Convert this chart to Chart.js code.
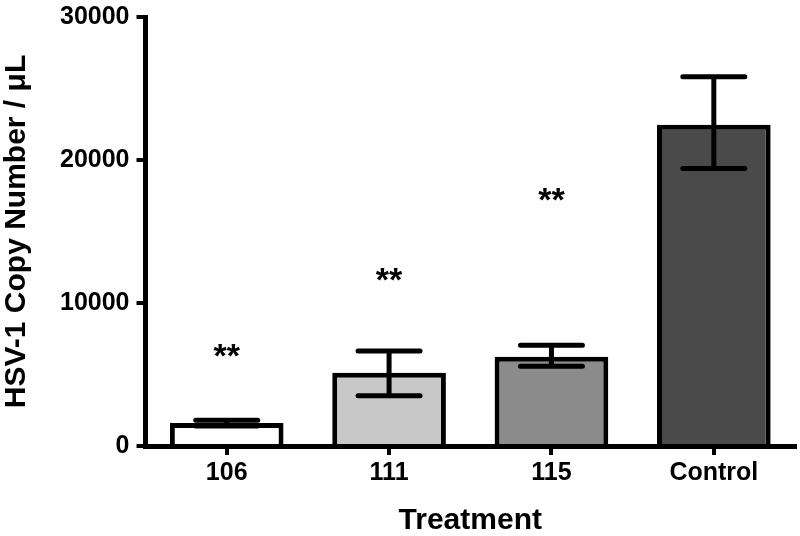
<!DOCTYPE html>
<html>
<head>
<meta charset="utf-8">
<script src="https://cdn.jsdelivr.net/npm/chart.js@4"></script>
<style>
  html, body { margin: 0; padding: 0; background: #fff; }
  #wrap { width: 800px; height: 536px; }
</style>
</head>
<body>
<div id="wrap"><canvas id="grafic" width="800" height="536"></canvas></div>
<script>
const categories = ['106', '111', '115', 'Control'];
const meanValues = [1600, 5130, 6250, 22470];
const errLow = [1400, 3510, 5580, 19400];
const errHigh = [1800, 6650, 7050, 25820];
const starLabels = ['**', '**', '**', ''];
const starValues = [6490, 11790, 17380, null];
const barColors = ['#ffffff', '#c8c8c8', '#8b8b8b', '#4a4a4a'];
const yTicks = [0, 10000, 20000, 30000];

const FONT = "'Liberation Sans', Arial, sans-serif";

// barres d'error i asteriscs de significació
const errorBars = {
    id: 'errorBars',
    afterDatasetsDraw(chart) {
        const ctx = chart.ctx;
        const meta = chart.getDatasetMeta(0);
        const y = chart.scales.y;
        ctx.save();
        ctx.strokeStyle = '#000';
        ctx.lineWidth = 5;
        ctx.lineCap = 'round';
        meta.data.forEach((bar, i) => {
            const x = bar.x;
            const top = y.getPixelForValue(errHigh[i]);
            const bot = y.getPixelForValue(errLow[i]);
            const half = 31;
            ctx.beginPath();
            ctx.moveTo(x, top); ctx.lineTo(x, bot);
            ctx.moveTo(x - half, top); ctx.lineTo(x + half, top);
            ctx.moveTo(x - half, bot); ctx.lineTo(x + half, bot);
            ctx.stroke();
        });
        ctx.fillStyle = '#000';
        ctx.font = 'bold 34px ' + FONT;
        ctx.textAlign = 'center';
        ctx.textBaseline = 'middle';
        meta.data.forEach((bar, i) => {
            if (!starLabels[i]) return;
            ctx.fillText(starLabels[i], bar.x, y.getPixelForValue(starValues[i]) + 4);
        });
        ctx.restore();
    }
};

new Chart(document.getElementById('grafic'), {
    type: 'bar',
    data: {
        labels: categories,
        datasets: [{
            data: meanValues,
            backgroundColor: barColors,
            borderColor: '#000',
            borderWidth: 5,
            borderSkipped: 'start',
            categoryPercentage: 1,
            barPercentage: 0.7
        }]
    },
    options: {
        responsive: false,
        animation: false,
        devicePixelRatio: 1,
        layout: { padding: { left: 0, right: 5, top: 0, bottom: 0 } },
        plugins: {
            legend: { display: false },
            tooltip: { enabled: false }
        },
        scales: {
            x: {
                grid: { offset: false, drawOnChartArea: false, drawTicks: true, tickLength: 9, lineWidth: 4, color: '#000' },
                border: { display: true, width: 5, color: '#000' },
                ticks: { color: '#000', padding: 3, font: { family: FONT, size: 25, weight: 'bold', lineHeight: 1.2 } },
                title: { display: true, text: 'Treatment', color: '#000', padding: { top: 15, bottom: 0 }, font: { family: FONT, size: 30, weight: 'bold', lineHeight: 1 } }
            },
            y: {
                min: 0,
                max: 30000,
                afterBuildTicks(axis) { axis.ticks = yTicks.map(v => ({ value: v })); },
                grid: { drawOnChartArea: false, drawTicks: true, tickLength: 9, lineWidth: 4, color: '#000' },
                border: { display: true, width: 5, color: '#000' },
                ticks: { color: '#000', padding: 7, callback: v => String(v), font: { family: FONT, size: 25, weight: 'bold', lineHeight: 0.8 } },
                title: { display: true, text: 'HSV-1 Copy Number / μL', color: '#000', padding: { top: 2, bottom: 21 }, font: { family: FONT, size: 30, weight: 'bold', lineHeight: 1 } }
            }
        }
    },
    plugins: [errorBars]
});
</script>
</body>
</html>
